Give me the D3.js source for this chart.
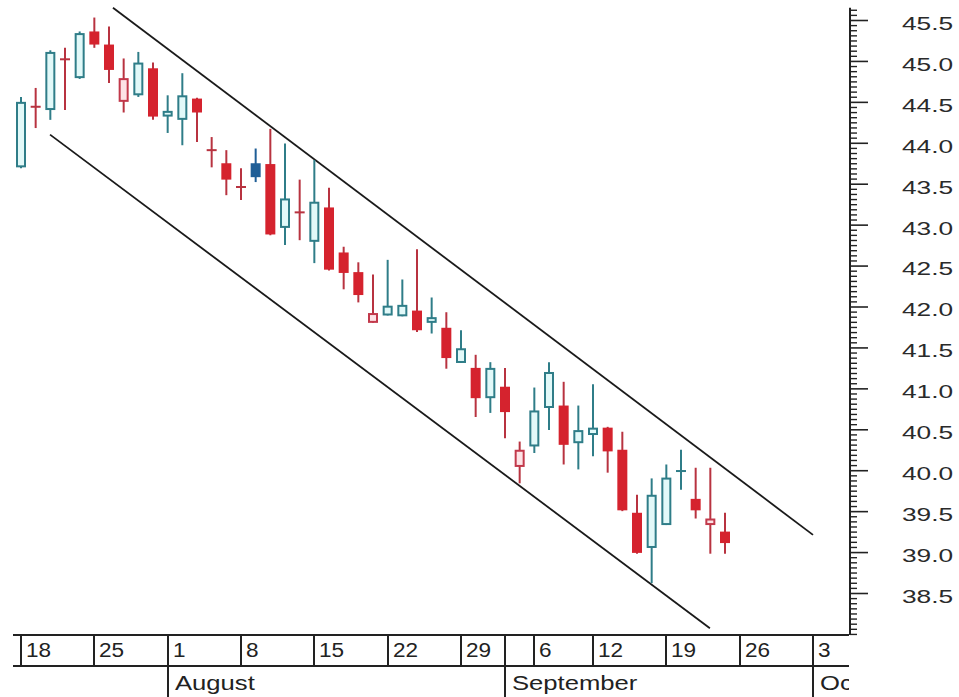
<!DOCTYPE html>
<html>
<head>
<meta charset="utf-8">
<script src="https://cdn.jsdelivr.net/npm/d3@7"></script>
<style>
  html, body { margin: 0; padding: 0; background: #fff; }
  svg { display: block; }
</style>
</head>
<body>
<svg id="chart" width="959" height="697"></svg>
<script>
// ---------------- DATA ----------------
const dates = [
  "2005-07-18","2005-07-19","2005-07-20","2005-07-21","2005-07-22",
  "2005-07-25","2005-07-26","2005-07-27","2005-07-28","2005-07-29",
  "2005-08-01","2005-08-02","2005-08-03","2005-08-04","2005-08-05",
  "2005-08-08","2005-08-09","2005-08-10","2005-08-11","2005-08-12",
  "2005-08-15","2005-08-16","2005-08-17","2005-08-18","2005-08-19",
  "2005-08-22","2005-08-23","2005-08-24","2005-08-25","2005-08-26",
  "2005-08-29","2005-08-30","2005-08-31","2005-09-01","2005-09-02",
  "2005-09-06","2005-09-07","2005-09-08","2005-09-09",
  "2005-09-12","2005-09-13","2005-09-14","2005-09-15","2005-09-16",
  "2005-09-19","2005-09-20","2005-09-21","2005-09-22","2005-09-23"
];
const open = [
  43.70,44.44,44.40,45.02,44.79, 45.36,45.20,44.50,44.58,44.91,
  44.32,44.28,44.54,43.91,43.75, 43.46,43.75,43.74,42.96,43.15,
  42.79,43.21,42.66,42.42,41.80, 41.89,41.88,41.95,41.80,41.74,
  41.31,41.25,40.88,41.02,40.04, 40.29,40.76,40.79,40.33,
  40.43,40.52,40.25,39.48,39.05, 39.33,39.99,39.65,39.33,39.25
];
const high = [
  44.56,44.67,45.13,45.16,45.36, 45.53,45.42,45.03,45.11,44.98,
  44.58,44.85,44.55,44.07,43.91, 43.69,43.93,44.17,43.99,43.55,
  43.79,43.45,42.73,42.54,42.39, 42.57,42.33,42.70,42.11,41.93,
  41.71,41.41,41.32,41.25,40.35, 41.01,41.32,41.08,40.79,
  41.05,40.53,40.47,39.70,39.90, 40.07,40.25,40.03,40.03,39.48
];
const low = [
  43.69,44.18,44.28,44.40,44.78, 45.16,44.73,44.37,44.56,44.28,
  44.12,43.97,44.01,43.70,43.36, 43.30,43.52,42.87,42.75,42.81,
  42.53,42.44,42.21,42.05,41.80, 41.89,41.88,41.69,41.67,41.24,
  41.31,40.65,40.70,40.39,39.84, 40.21,40.49,40.07,40.01,
  40.17,39.97,39.50,38.98,38.62, 39.33,39.76,39.41,38.98,38.98
];
const close = [
  44.50,44.44,45.11,45.02,45.34, 45.20,44.89,44.79,44.98,44.32,
  44.39,44.58,44.37,43.91,43.55, 43.46,43.58,42.88,43.32,43.15,
  43.28,42.45,42.41,42.14,41.92, 42.01,42.02,41.71,41.87,41.37,
  41.49,40.88,41.25,40.71,40.25, 40.73,41.20,40.31,40.49,
  40.52,40.23,39.51,38.99,39.70, 39.91,39.99,39.51,39.41,39.11
];

// trend channel anchors: [trading-day number, price]
const upperChannel = [[6.27, 45.65], [54, 39.21]];
const lowerChannel = [[1.98, 44.10], [46.97, 38.07]];

const calendarStart = "2005-07-18";
const calendarEnd = "2005-10-03";
const holidays = ["2005-09-05"];
const weekTickDates = [
  "2005-07-18","2005-07-25","2005-08-01","2005-08-08","2005-08-15","2005-08-22",
  "2005-08-29","2005-09-06","2005-09-12","2005-09-19","2005-09-26","2005-10-03"
];
const monthTickDates = ["2005-08-01","2005-09-01","2005-10-03"];
const monthNames = ["August","September","October"];
const priceTicks = [38.5,39.0,39.5,40.0,40.5,41.0,41.5,42.0,42.5,43.0,43.5,44.0,44.5,45.0,45.5];
const priceAxisRange = [38.0, 45.65];
const minorStep = 1 / 16;

// ---------------- SETUP ----------------
const parse = d3.utcParse("%Y-%m-%d");
const fmt = d3.utcFormat("%Y-%m-%d");
const tradingDays = d3.utcDay.range(parse(calendarStart), d3.utcDay.offset(parse(calendarEnd), 1))
  .filter(d => d.getUTCDay() !== 0 && d.getUTCDay() !== 6)
  .map(fmt)
  .filter(s => !holidays.includes(s));
const dayIndex = s => tradingDays.indexOf(s);

const svg = d3.select("#chart");
svg.append("rect").attr("width", 959).attr("height", 697).attr("fill", "#fff");

const x = d3.scaleLinear().domain([0, tradingDays.length - 1]).range([21, 813]);
const y = d3.scaleLinear().domain([38.5, 45.5]).range([593, 20]);

const FONT = "'Liberation Sans', Arial, Helvetica, sans-serif";
const INK = "#222";

// ---------------- CHANNEL LINES ----------------
const line = d3.line().x(d => x(d[0])).y(d => y(d[1]));
[upperChannel, lowerChannel].forEach(ch => {
  svg.append("path").attr("d", line(ch))
    .attr("fill", "none").attr("stroke", "#1a1a1a").attr("stroke-width", 1.8);
});

// ---------------- CANDLES ----------------
const candles = dates.map((d, i) => ({
  i: dayIndex(d), o: open[i], h: high[i], l: low[i], c: close[i],
  prev: i > 0 ? close[i - 1] : open[i]
}));

const COL = {
  upStroke: "#2f7d88", upFill: "#e2f9f9", upSolid: "#1f5e96",
  dnSolid: "#d5232e", dnStroke: "#c2394b", dnFill: "#fde3e6", dnWick: "#b83340"
};
const bodyW = 10;

const g = svg.append("g");
candles.forEach(k => {
  const up = k.c >= k.prev;
  const cx = x(k.i);
  const wickColor = up ? (k.c < k.o ? COL.upSolid : COL.upStroke) : COL.dnWick;
  g.append("line")
    .attr("x1", cx).attr("x2", cx)
    .attr("y1", y(k.h)).attr("y2", y(k.l))
    .attr("stroke", wickColor).attr("stroke-width", 2);
  if (k.o === k.c) {
    g.append("line")
      .attr("x1", cx - bodyW / 2).attr("x2", cx + bodyW / 2)
      .attr("y1", y(k.c)).attr("y2", y(k.c))
      .attr("stroke", up ? COL.upStroke : COL.dnWick).attr("stroke-width", 2);
    return;
  }
  const top = y(Math.max(k.o, k.c)), bot = y(Math.min(k.o, k.c));
  const hollow = k.c > k.o;
  let fill, stroke;
  if (up) { fill = hollow ? COL.upFill : COL.upSolid; stroke = hollow ? COL.upStroke : COL.upSolid; }
  else { fill = hollow ? COL.dnFill : COL.dnSolid; stroke = hollow ? COL.dnStroke : COL.dnSolid; }
  g.append("rect")
    .attr("x", cx - bodyW / 2 + 1).attr("width", bodyW - 2)
    .attr("y", top + 1).attr("height", Math.max(bot - top - 2, 1.5))
    .attr("fill", fill).attr("stroke", stroke).attr("stroke-width", 2);
});

// ---------------- PRICE AXIS ----------------
const axisX = 850;
const minorTicks = d3.range(Math.ceil(priceAxisRange[0] / minorStep), Math.floor(priceAxisRange[1] / minorStep) + 1)
  .map(k => k * minorStep)
  .filter(v => !priceTicks.some(p => Math.abs(p - v) < 1e-9));

const ax = svg.append("g").attr("transform", `translate(${axisX},0)`);
ax.append("line").attr("x1", 0).attr("x2", 0)
  .attr("y1", y(priceAxisRange[1])).attr("y2", y(priceAxisRange[0]) + 1)
  .attr("stroke", INK).attr("stroke-width", 2);

const minorAxis = ax.append("g").call(d3.axisRight(y).tickValues(minorTicks).tickSize(7).tickFormat(""));
minorAxis.select(".domain").remove();
minorAxis.selectAll("line").attr("stroke", INK).attr("stroke-width", 1.4);

const majorAxis = ax.append("g").call(
  d3.axisRight(y).tickValues(priceTicks).tickSize(18).tickPadding(34).tickFormat(d3.format(".1f"))
);
majorAxis.select(".domain").remove();
majorAxis.selectAll("line").attr("stroke", INK).attr("stroke-width", 1.6);
majorAxis.selectAll("text")
  .attr("font-family", FONT).attr("font-size", 18.5).attr("fill", "#2a2a2a")
  .attr("y", 3.5)
  .each(function () {
    const w = this.getComputedTextLength();
    d3.select(this).attr("textLength", w * 1.42).attr("lengthAdjust", "spacingAndGlyphs");
  });

// ---------------- DATE AXIS ----------------
const boxTop = 635, boxBot = 666, boxLeft = 13, boxRight = 849;
svg.append("clipPath").attr("id", "dateClip")
  .append("rect").attr("x", 0).attr("y", boxTop - 2).attr("width", boxRight).attr("height", 697 - boxTop + 2);
const da = svg.append("g").attr("clip-path", "url(#dateClip)");

[boxTop, boxBot].forEach(yy => {
  da.append("line").attr("x1", boxLeft).attr("x2", boxRight).attr("y1", yy).attr("y2", yy)
    .attr("stroke", INK).attr("stroke-width", 2);
});

weekTickDates.forEach(s => {
  const xx = Math.round(x(dayIndex(s)));
  da.append("line").attr("x1", xx).attr("x2", xx).attr("y1", boxTop).attr("y2", boxBot)
    .attr("stroke", INK).attr("stroke-width", 2);
  const t = da.append("text").attr("x", xx + 5).attr("y", 657)
    .attr("font-family", FONT).attr("font-size", 20.5).attr("fill", INK)
    .text(String(parse(s).getUTCDate()));
  const w = t.node().getComputedTextLength();
  t.attr("textLength", w * 1.1).attr("lengthAdjust", "spacingAndGlyphs");
});

monthTickDates.forEach((s, i) => {
  const xx = Math.round(x(dayIndex(s)));
  da.append("line").attr("x1", xx).attr("x2", xx).attr("y1", boxTop).attr("y2", 697)
    .attr("stroke", INK).attr("stroke-width", 2);
  const t = da.append("text").attr("x", xx + 7).attr("y", 690)
    .attr("font-family", FONT).attr("font-size", 20.5).attr("fill", INK)
    .text(monthNames[i]);
  const w = t.node().getComputedTextLength();
  t.attr("textLength", w * 1.25).attr("lengthAdjust", "spacingAndGlyphs");
});
</script>
</body>
</html>
